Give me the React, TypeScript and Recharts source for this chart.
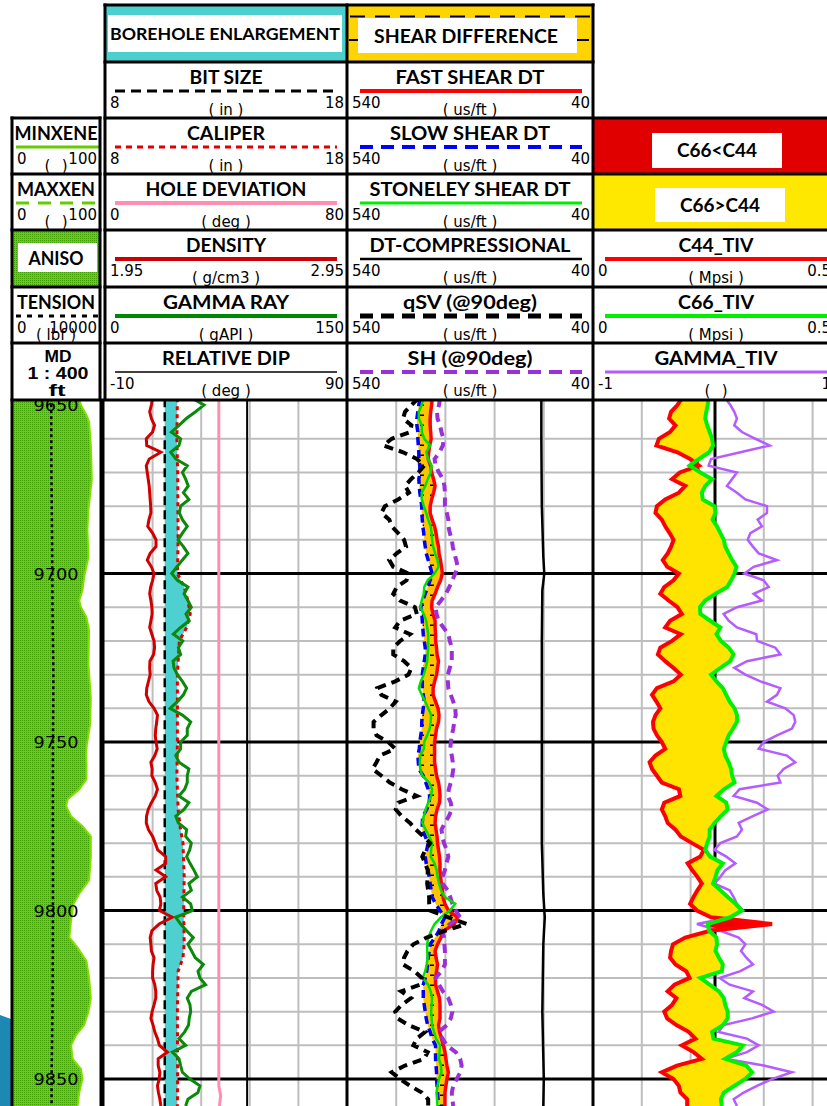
import React from 'react';
import { ComposedChart, Line, Area, XAxis, YAxis, CartesianGrid, ReferenceLine } from 'recharts';

// ---------------- DATA ----------------
const DEPTH = [
  9648, 9650, 9652, 9654, 9656, 9658, 9660, 9662, 9664, 9666,
  9668, 9670, 9672, 9674, 9676, 9678, 9680, 9682, 9684, 9686,
  9688, 9690, 9692, 9694, 9696, 9698, 9700, 9702, 9704, 9706,
  9708, 9710, 9712, 9714, 9716, 9718, 9720, 9722, 9724, 9726,
  9728, 9730, 9732, 9734, 9736, 9738, 9740, 9742, 9744, 9746,
  9748, 9750, 9752, 9754, 9756, 9758, 9760, 9762, 9764, 9766,
  9768, 9770, 9772, 9774, 9776, 9778, 9780, 9782, 9784, 9786,
  9788, 9790, 9792, 9794, 9796, 9798, 9800, 9802, 9804, 9806,
  9808, 9810, 9812, 9814, 9816, 9818, 9820, 9822, 9824, 9826,
  9828, 9830, 9832, 9834, 9836, 9838, 9840, 9842, 9844, 9846,
  9848, 9850, 9852, 9854, 9856, 9858,
];

const C44_TIV = [
  0.182, 0.173, 0.160, 0.156, 0.169, 0.158, 0.135, 0.130, 0.173, 0.199,
  0.217, 0.178, 0.162, 0.189, 0.176, 0.148, 0.131, 0.128, 0.141, 0.148,
  0.157, 0.165, 0.160, 0.153, 0.143, 0.152, 0.176, 0.165, 0.146, 0.138,
  0.155, 0.173, 0.182, 0.158, 0.148, 0.180, 0.162, 0.138, 0.133, 0.148,
  0.165, 0.180, 0.165, 0.131, 0.121, 0.130, 0.138, 0.128, 0.123, 0.124,
  0.131, 0.141, 0.148, 0.128, 0.116, 0.121, 0.131, 0.141, 0.176, 0.179,
  0.146, 0.141, 0.148, 0.153, 0.169, 0.180, 0.203, 0.227, 0.220, 0.194,
  0.203, 0.214, 0.223, 0.214, 0.206, 0.199, 0.213, 0.242, 0.367, 0.240,
  0.189, 0.164, 0.160, 0.158, 0.169, 0.191, 0.198, 0.167, 0.153, 0.171,
  0.162, 0.146, 0.152, 0.171, 0.196, 0.210, 0.182, 0.206, 0.223, 0.172,
  0.141, 0.165, 0.176, 0.179, 0.193, 0.193,
];

const C66_TIV = [
  0.237, 0.235, 0.232, 0.230, 0.234, 0.239, 0.244, 0.246, 0.238, 0.217,
  0.198, 0.220, 0.244, 0.230, 0.223, 0.225, 0.249, 0.251, 0.245, 0.254,
  0.261, 0.268, 0.271, 0.278, 0.285, 0.294, 0.290, 0.283, 0.275, 0.251,
  0.230, 0.219, 0.220, 0.240, 0.261, 0.253, 0.262, 0.278, 0.288, 0.281,
  0.261, 0.242, 0.253, 0.266, 0.273, 0.280, 0.290, 0.295, 0.295, 0.287,
  0.278, 0.273, 0.268, 0.271, 0.278, 0.283, 0.285, 0.290, 0.268, 0.253,
  0.273, 0.276, 0.262, 0.249, 0.239, 0.239, 0.234, 0.230, 0.240, 0.266,
  0.255, 0.251, 0.246, 0.261, 0.276, 0.292, 0.305, 0.281, 0.235, 0.238,
  0.253, 0.254, 0.251, 0.258, 0.266, 0.264, 0.220, 0.239, 0.258, 0.268,
  0.271, 0.276, 0.276, 0.266, 0.244, 0.247, 0.307, 0.295, 0.271, 0.314,
  0.326, 0.312, 0.290, 0.268, 0.262, 0.264,
];

const GAMMA_TIV = [
  0.085, 0.126, 0.158, 0.180, 0.158, 0.221, 0.331, 0.448, 0.208, -0.033,
  -0.052, 0.180, 0.139, 0.098, 0.180, 0.249, 0.426, 0.426, 0.350, 0.385,
  0.290, 0.268, 0.311, 0.358, 0.508, 0.317, 0.240, 0.399, 0.440, 0.317,
  0.385, 0.180, 0.071, 0.112, 0.180, 0.339, 0.344, 0.495, 0.536, 0.262,
  0.158, 0.249, 0.372, 0.536, 0.508, 0.426, 0.577, 0.645, 0.658, 0.631,
  0.508, 0.399, 0.358, 0.590, 0.658, 0.563, 0.514, 0.536, 0.202, 0.153,
  0.344, 0.432, 0.311, 0.194, 0.221, 0.180, 0.044, -0.005, 0.093, 0.167,
  0.085, 0.044, -0.005, 0.120, 0.153, 0.180, 0.230, 0.126, -0.148, 0.044,
  0.194, 0.249, 0.213, 0.257, 0.311, 0.208, 0.038, 0.120, 0.311, 0.240,
  0.385, 0.481, 0.303, 0.071, 0.030, 0.262, 0.358, 0.262, 0.085, 0.399,
  0.631, 0.467, 0.344, 0.235, 0.153, 0.180,
];

const FAST_SHEAR_DT = [
  367, 368, 370, 371, 371, 370, 369, 372, 374, 375,
  370, 368, 364, 361, 364, 368, 371, 371, 367, 362,
  359, 357, 354, 353, 350, 348, 346, 350, 356, 361,
  367, 368, 365, 361, 361, 360, 360, 358, 357, 354,
  356, 358, 362, 365, 365, 360, 355, 353, 354, 358,
  360, 362, 362, 362, 362, 360, 358, 354, 352, 351,
  352, 357, 360, 361, 359, 357, 356, 354, 352, 351,
  351, 350, 348, 346, 345, 341, 334, 315, 322, 343,
  349, 356, 361, 359, 356, 358, 360, 360, 356, 352,
  351, 351, 351, 354, 352, 348, 344, 341, 339, 337,
  334, 337, 339, 341, 341, 341,
];

const SLOW_SHEAR_DT = [
  392, 394, 396, 398, 398, 396, 396, 395, 394, 394,
  392, 392, 394, 393, 392, 390, 388, 388, 387, 386,
  384, 383, 381, 379, 375, 371, 367, 371, 376, 381,
  386, 390, 388, 387, 386, 385, 383, 381, 381, 383,
  385, 387, 387, 387, 385, 383, 385, 387, 388, 388,
  390, 392, 393, 396, 395, 394, 385, 380, 375, 372,
  373, 378, 386, 387, 387, 381, 375, 378, 381, 379,
  375, 373, 371, 369, 367, 360, 351, 341, 348, 353,
  361, 371, 373, 375, 376, 378, 381, 385, 385, 385,
  383, 381, 379, 376, 371, 367, 360, 360, 360, 359,
  358, 358, 357, 356, 355, 354,
];

const STONELEY_SHEAR_DT = [
  385, 388, 394, 394, 388, 388, 383, 371, 379, 375,
  368, 370, 376, 381, 388, 388, 384, 379, 375, 370,
  368, 367, 365, 361, 356, 354, 362, 376, 383, 384,
  388, 391, 384, 379, 377, 375, 375, 375, 376, 377,
  380, 384, 390, 394, 388, 381, 375, 369, 370, 372,
  377, 383, 384, 391, 392, 391, 387, 373, 367, 369,
  375, 380, 384, 387, 380, 373, 367, 369, 370, 362,
  358, 356, 353, 349, 341, 320, 331, 349, 362, 369,
  375, 377, 377, 376, 378, 381, 386, 375, 370, 367,
  368, 369, 368, 367, 363, 359, 351, 352, 353, 349,
  348, 353, 356, 358, 357, 356,
];

const SH_DT = [
  351, 353, 357, 356, 351, 348, 344, 345, 352, 362,
  360, 353, 345, 342, 341, 341, 341, 337, 334, 334,
  331, 327, 325, 322, 318, 315, 320, 326, 332, 339,
  349, 360, 358, 354, 344, 334, 331, 327, 327, 327,
  331, 335, 335, 334, 329, 324, 320, 319, 322, 324,
  327, 329, 330, 327, 325, 324, 326, 329, 333, 335,
  329, 327, 333, 341, 348, 346, 343, 337, 334, 338,
  341, 346, 346, 335, 330, 326, 319, 310, 331, 346,
  343, 342, 341, 341, 341, 348, 360, 353, 345, 334,
  329, 326, 329, 337, 353, 346, 337, 319, 310, 307,
  310, 317, 324, 327, 326, 324,
];

const QSV_DT = [
  395, 409, 422, 426, 409, 412, 449, 466, 426, 398,
  383, 395, 410, 422, 414, 436, 463, 470, 454, 449,
  436, 424, 420, 439, 454, 446, 415, 419, 439, 446,
  432, 402, 398, 432, 442, 412, 432, 446, 446, 424,
  409, 415, 442, 478, 470, 441, 453, 470, 486, 486,
  480, 456, 442, 473, 480, 488, 470, 453, 429, 398,
  436, 441, 429, 412, 400, 385, 371, 381, 387, 381,
  376, 376, 377, 375, 373, 373, 371, 334, 297, 341,
  378, 405, 417, 424, 426, 403, 388, 392, 430, 410,
  429, 442, 437, 415, 381, 398, 405, 376, 383, 422,
  449, 432, 412, 388, 375, 375,
];

const DENSITY = [
  2.150, 2.145, 2.138, 2.145, 2.158, 2.150, 2.124, 2.126, 2.184, 2.136,
  2.124, 2.128, 2.132, 2.136, 2.138, 2.140, 2.142, 2.143, 2.135, 2.130,
  2.150, 2.164, 2.164, 2.140, 2.128, 2.145, 2.156, 2.150, 2.142, 2.138,
  2.143, 2.147, 2.148, 2.143, 2.138, 2.147, 2.156, 2.158, 2.154, 2.139,
  2.138, 2.140, 2.133, 2.126, 2.124, 2.135, 2.156, 2.170, 2.167, 2.163,
  2.161, 2.164, 2.169, 2.159, 2.143, 2.148, 2.147, 2.161, 2.170, 2.161,
  2.145, 2.132, 2.125, 2.124, 2.133, 2.150, 2.161, 2.171, 2.204, 2.204,
  2.164, 2.204, 2.163, 2.167, 2.181, 2.184, 2.178, 2.231, 2.177, 2.147,
  2.140, 2.143, 2.145, 2.156, 2.152, 2.150, 2.150, 2.159, 2.163, 2.163,
  2.156, 2.148, 2.143, 2.152, 2.159, 2.170, 2.178, 2.211, 2.173, 2.173,
  2.180, 2.177, 2.170, 2.174, 2.180, 2.184,
];

const GAMMA_RAY = [
  54.5, 61.7, 56.5, 50.8, 46.3, 41.6, 47.3, 46.3, 41.2, 44.3,
  51.4, 48.4, 50.4, 52.0, 49.0, 52.4, 47.3, 46.5, 48.4, 51.4,
  48.4, 45.7, 49.0, 51.8, 48.4, 44.9, 41.8, 45.3, 51.8, 49.4,
  51.8, 53.9, 50.6, 52.6, 47.3, 42.8, 48.6, 45.9, 47.3, 42.6,
  43.2, 45.3, 48.4, 51.0, 49.0, 45.3, 40.8, 48.4, 53.5, 51.4,
  51.4, 47.3, 47.3, 44.3, 46.3, 52.4, 51.4, 51.4, 49.8, 46.3,
  52.4, 49.4, 44.3, 45.9, 51.0, 50.4, 53.9, 52.9, 51.0, 53.1,
  55.5, 57.6, 52.4, 53.9, 48.4, 53.5, 54.5, 44.3, 47.3, 51.0,
  55.1, 51.8, 54.1, 56.3, 61.3, 58.0, 59.2, 62.7, 53.9, 51.4,
  53.1, 53.5, 52.6, 52.2, 49.8, 46.3, 50.4, 42.2, 46.3, 47.3,
  48.4, 53.1, 59.2, 58.0, 51.8, 50.4,
];

const CAL_DEPTH = [9648, 9660, 9670, 9690, 9700, 9704, 9708, 9712, 9716, 9720, 9730, 9750, 9760, 9770, 9776, 9780, 9790, 9800, 9810, 9814, 9818, 9830, 9850, 9858];
const CALIPER = [11.02, 11.0, 11.03, 11.05, 11.02, 11.3, 11.45, 11.55, 11.4, 11.1, 11.02, 11.02, 11.0, 11.05, 11.15, 11.25, 11.3, 11.28, 11.3, 11.25, 11.05, 11.02, 11.03, 11.02];
const BIT_SIZE = [10.5, 10.5, 10.5, 10.5, 10.5, 10.5, 10.5, 10.5, 10.5, 10.5, 10.5, 10.5, 10.5, 10.5, 10.5, 10.5, 10.5, 10.5, 10.5, 10.5, 10.5, 10.5, 10.5, 10.5];

const HDEV_DEPTH = [9648, 9700, 9750, 9800, 9852, 9855, 9858];
const HOLE_DEVIATION = [37.8, 37.8, 37.8, 37.8, 37.8, 38.4, 38.0];

const RDIP_DEPTH = [9648, 9858];
const RELATIVE_DIP = [48.9, 48.9];

const DTC_DEPTH = [9648, 9660, 9680, 9695, 9700, 9705, 9720, 9760, 9780, 9795, 9802, 9810, 9830, 9850, 9858];
const DT_COMPRESSIONAL = [145, 145, 144, 141, 139, 143, 144, 144, 144, 141, 138, 141, 143, 140, 141];

const ANISO_DEPTH = [9648, 9650, 9653, 9655, 9662, 9672, 9681, 9687, 9695, 9701, 9705, 9708, 9710, 9713, 9717, 9727, 9737, 9745, 9751, 9754, 9757, 9761, 9764, 9767, 9769, 9772, 9775, 9778, 9784, 9791, 9795, 9798, 9803, 9808, 9811, 9815, 9820, 9826, 9830, 9834, 9837, 9840, 9844, 9847, 9850, 9854, 9858];
const MAXXEN = [76.4, 78.3, 84.6, 87.6, 89.6, 90.7, 86.9, 85.7, 86.9, 82.0, 80.1, 76.4, 78.3, 84.6, 87.6, 86.9, 89.6, 88.6, 85.0, 84.0, 84.6, 84.6, 76.4, 63.3, 61.5, 67.1, 80.1, 89.6, 89.6, 87.6, 76.4, 70.0, 67.1, 65.2, 74.5, 84.6, 87.6, 89.6, 86.9, 82.0, 72.7, 67.1, 68.9, 78.3, 80.1, 76.4, 74.5];

const TEN_DEPTH = [9648, 9670, 9690, 9710, 9730, 9750, 9770, 9790, 9810, 9830, 9850, 9858];
const TENSION = [4450, 4480, 4560, 4600, 4700, 4650, 4640, 4650, 4640, 4600, 4500, 4500];

const MAJOR_DEPTHS = [9650, 9700, 9750, 9800, 9850];
const MINOR_DEPTHS = [9660, 9670, 9680, 9690, 9710, 9720, 9730, 9740, 9760, 9770, 9780, 9790, 9810, 9820, 9830, 9840];
const T1_GRID = [10, 12, 14, 16];
const T2_GRID = [140, 240, 340, 440];
const T3_GRID = [0.05, 0.1, 0.15, 0.2, 0.3, 0.35, 0.4, 0.45];
const T3_MAJOR = [0.25];

// ---------------- ROWS ----------------
const mainRows = DEPTH.map((depth, i) => ({
  depth,
  den: DENSITY[i], gr: GAMMA_RAY[i],
  fast: FAST_SHEAR_DT[i], slow: SLOW_SHEAR_DT[i], stc: STONELEY_SHEAR_DT[i], sh: SH_DT[i], qsv: QSV_DT[i],
  c44: C44_TIV[i], c66: C66_TIV[i], gam: GAMMA_TIV[i],
}));
const calRows = CAL_DEPTH.map((depth, i) => ({ depth, cal: CALIPER[i], bit: BIT_SIZE[i] }));
const devRows = HDEV_DEPTH.map((depth, i) => ({ depth, dev: HOLE_DEVIATION[i] }));
const dipRows = RDIP_DEPTH.map((depth, i) => ({ depth, dip: RELATIVE_DIP[i] }));
const dtcRows = DTC_DEPTH.map((depth, i) => ({ depth, dtc: DT_COMPRESSIONAL[i] }));
const anisoRows = ANISO_DEPTH.map((depth, i) => ({ depth, an: MAXXEN[i] }));
const tenRows = TEN_DEPTH.map((depth, i) => ({ depth, ten: TENSION[i] }));

// ---------------- LAYOUT ----------------
const TOP = 400;
const H = 706;
const Y_DOMAIN: [number, number] = [9648.5, 9858];
const M = { top: 0, right: 0, bottom: 0, left: 0 };

function ln(key: string, p: any) {
  return <Line key={key} type="linear" dot={false} activeDot={false} isAnimationActive={false} legendType="none" {...p} />;
}
function yAx() {
  return <YAxis key="y" type="number" dataKey="depth" domain={Y_DOMAIN} hide allowDataOverflow />;
}
function grids(xGrid: number[]) {
  return [
    <CartesianGrid key="gmin" horizontalValues={MINOR_DEPTHS} verticalValues={xGrid} stroke="#BEBEBE" strokeWidth={2} />,
    <CartesianGrid key="gmaj" horizontalValues={MAJOR_DEPTHS} vertical={false} stroke="#000" strokeWidth={3} />,
  ];
}

const DepthLabel = (props: any) => {
  const vb = props.viewBox || {};
  const cx = (vb.x ?? 0) + (vb.width ?? 88) / 2;
  const cy = (vb.y ?? 0) + (vb.height ?? 0) / 2;
  return (
    <text x={cx} y={cy + 6} textAnchor="middle" fontFamily="'DejaVu Sans', sans-serif" fontSize={16}
      textLength={45} lengthAdjust="spacingAndGlyphs" fill="#000">{props.value}</text>
  );
};

const TITLE_FONT = "Lato, 'Open Sans', sans-serif";
const VAL_FONT = "'DejaVu Sans', sans-serif";
const MD_FONT = "'Liberation Sans', Arial, sans-serif";
const ROW_TOP = [5, 62, 118, 174, 230, 287, 343];

const T0 = { x0: 12, x1: 100, lx0: 16, lx1: 99 };
const T1 = { x0: 105, x1: 347, lx0: 115, lx1: 337 };
const T2 = { x0: 347, x1: 593, lx0: 360, lx1: 582 };
const T3 = { x0: 593, x1: 837, lx0: 605, lx1: 830 };

const CURVE_HEADERS = [
  { t: T0, row: 2, title: 'MINXENE', tw: 83, color: '#66CC00', sw: 3, left: '0', right: '100', unit: '( )', uw: 23 },
  { t: T0, row: 3, title: 'MAXXEN', tw: 78, color: '#66CC00', sw: 3, dash: '13 9', left: '0', right: '100', unit: '( )', uw: 23 },
  { t: T0, row: 5, title: 'TENSION', tw: 78, color: '#000', sw: 3, dash: '5 6', left: '0', right: '10000', unit: '( lbf )' },
  { t: T1, row: 1, title: 'BIT SIZE', tw: 73, color: '#000', sw: 3, dash: '10 6', left: '8', right: '18', unit: '( in )' },
  { t: T1, row: 2, title: 'CALIPER', tw: 78, color: '#E00000', sw: 3, dash: '6 5', left: '8', right: '18', unit: '( in )' },
  { t: T1, row: 3, title: 'HOLE DEVIATION', tw: 161, color: '#FF8FB0', sw: 4, left: '0', right: '80', unit: '( deg )' },
  { t: T1, row: 4, title: 'DENSITY', tw: 80, color: '#CC0000', sw: 4, left: '1.95', right: '2.95', unit: '( g/cm3 )' },
  { t: T1, row: 5, title: 'GAMMA RAY', tw: 126, color: '#008800', sw: 4, left: '0', right: '150', unit: '( gAPI )' },
  { t: T1, row: 6, title: 'RELATIVE DIP', tw: 128, color: '#000', sw: 1.5, left: '-10', right: '90', unit: '( deg )' },
  { t: T2, row: 1, title: 'FAST SHEAR DT', tw: 149, color: '#FF0000', sw: 4, left: '540', right: '40', unit: '( us/ft )' },
  { t: T2, row: 2, title: 'SLOW SHEAR DT', tw: 160, color: '#0000FF', sw: 4, dash: '13 8', left: '540', right: '40', unit: '( us/ft )' },
  { t: T2, row: 3, title: 'STONELEY SHEAR DT', tw: 201, color: '#00EE00', sw: 3, left: '540', right: '40', unit: '( us/ft )' },
  { t: T2, row: 4, title: 'DT-COMPRESSIONAL', tw: 201, color: '#000', sw: 2.5, left: '540', right: '40', unit: '( us/ft )' },
  { t: T2, row: 5, title: 'qSV (@90deg)', tw: 134, color: '#000', sw: 5, dash: '13 8', left: '540', right: '40', unit: '( us/ft )' },
  { t: T2, row: 6, title: 'SH (@90deg)', tw: 125, color: '#9B30D9', sw: 4, dash: '13 8', left: '540', right: '40', unit: '( us/ft )' },
  { t: T3, row: 4, title: 'C44_TIV', tw: 75, color: '#FF0000', sw: 4, left: '0', right: '0.5', unit: '( Mpsi )', rx: 831 },
  { t: T3, row: 5, title: 'C66_TIV', tw: 76, color: '#00EE00', sw: 4, left: '0', right: '0.5', unit: '( Mpsi )', rx: 831 },
  { t: T3, row: 6, title: 'GAMMA_TIV', tw: 123, color: '#B45CFF', sw: 3, left: '-1', right: '1', unit: '( )', uw: 23, rx: 831 },
];

function CurveHeader({ h }: { h: any }) {
  const top = ROW_TOP[h.row];
  const cx = h.t === T3 ? 716 : (h.t.x0 + h.t.x1) / 2;
  const rx = h.rx ?? h.t.x1 - 3;
  return (
    <g>
      <text x={cx} y={top + 21.5} textAnchor="middle" fontFamily={TITLE_FONT} fontWeight={700} fontSize={18}
        textLength={h.tw} lengthAdjust="spacingAndGlyphs" fill="#000">{h.title}</text>
      <line x1={h.t.lx0} x2={h.t.lx1} y1={top + 29} y2={top + 29} stroke={h.color} strokeWidth={h.sw} strokeDasharray={h.dash} />
      <text x={h.t.x0 + 5} y={top + 46} fontFamily={VAL_FONT} fontSize={15} fill="#000">{h.left}</text>
      <text x={rx} y={top + 46} textAnchor="end" fontFamily={VAL_FONT} fontSize={15} fill="#000">{h.right}</text>
      <text x={cx} y={top + 52.5} textAnchor="middle" fontFamily={VAL_FONT} fontSize={15} fill="#000"
        textLength={h.uw} lengthAdjust={h.uw ? 'spacing' : undefined}>{h.unit}</text>
    </g>
  );
}

function BoxText({ x, y, w, text, size, font }: any) {
  return (
    <text x={x} y={y} textAnchor="middle" fontFamily={font ?? TITLE_FONT} fontWeight={700} fontSize={size ?? 18}
      textLength={w} lengthAdjust="spacingAndGlyphs" fill="#000">{text}</text>
  );
}

export default function App() {
  const B = { stroke: '#000', strokeWidth: 3 };
  return (
    <div style={{ position: 'absolute', left: 0, top: 0, width: 827, height: 1106, overflow: 'hidden', background: '#fff' }}>
      <svg width={0} height={0} style={{ position: 'absolute' }}>
        <defs>
          <pattern id="anisoPat" width={2} height={2} patternUnits="userSpaceOnUse">
            <rect width={2} height={2} fill="#6CD000" />
            <rect width={1} height={1} fill="#3F9E00" />
          </pattern>
          <pattern id="shearPat" width={10} height={10} patternUnits="userSpaceOnUse">
            <rect width={10} height={10} fill="#FFC400" />
            <rect x={3} y={4.5} width={4} height={1.5} fill="#000" />
          </pattern>
        </defs>
      </svg>

      {/* Track 0: ANISO / TENSION / depth */}
      <div style={{ position: 'absolute', left: 12, top: TOP }}>
        <ComposedChart layout="vertical" width={88} height={H} margin={M}>
          <XAxis type="number" domain={[0, 100]} hide allowDataOverflow />
          <XAxis type="number" xAxisId="ten" domain={[0, 10000]} hide allowDataOverflow />
          {yAx()}
          <Area data={anisoRows} dataKey="an" baseValue={0} type="linear" fill="url(#anisoPat)" fillOpacity={1}
            stroke="#7FE000" strokeWidth={2} isAnimationActive={false} dot={false} activeDot={false} />
          {ln('ten', { data: tenRows, dataKey: 'ten', xAxisId: 'ten', stroke: '#000', strokeWidth: 2.5, strokeDasharray: '3 3' })}
          {MAJOR_DEPTHS.map((d) => (
            <ReferenceLine key={d} y={d} stroke="none" label={{ value: String(d), content: DepthLabel }} />
          ))}
        </ComposedChart>
      </div>

      {/* Track 1 */}
      <div style={{ position: 'absolute', left: 104, top: TOP }}>
        <ComposedChart layout="vertical" width={243} height={H} margin={M}>
          <XAxis type="number" domain={[8, 18]} hide allowDataOverflow />
          <XAxis type="number" xAxisId="den" domain={[1.95, 2.95]} hide allowDataOverflow />
          <XAxis type="number" xAxisId="gr" domain={[0, 150]} hide allowDataOverflow />
          <XAxis type="number" xAxisId="dev" domain={[0, 80]} hide allowDataOverflow />
          <XAxis type="number" xAxisId="dip" domain={[-10, 90]} hide allowDataOverflow />
          {yAx()}
          {grids(T1_GRID)}
          <Area data={calRows} dataKey={(r: any) => [r.bit, r.cal]} type="linear" fill="#4FD0D0" fillOpacity={1}
            stroke="none" isAnimationActive={false} dot={false} activeDot={false} />
          {ln('dev', { data: devRows, dataKey: 'dev', xAxisId: 'dev', stroke: '#FF8FB0', strokeWidth: 3 })}
          {ln('dip', { data: dipRows, dataKey: 'dip', xAxisId: 'dip', stroke: '#000', strokeWidth: 2 })}
          {ln('bit', { data: calRows, dataKey: 'bit', stroke: '#000', strokeWidth: 2.5, strokeDasharray: '9 5' })}
          {ln('cal', { data: calRows, dataKey: 'cal', stroke: '#E00000', strokeWidth: 3, strokeDasharray: '4 4' })}
          {ln('den', { data: mainRows, dataKey: 'den', xAxisId: 'den', stroke: '#D00000', strokeWidth: 3 })}
          {ln('gr', { data: mainRows, dataKey: 'gr', xAxisId: 'gr', stroke: '#0A8A0A', strokeWidth: 3 })}
        </ComposedChart>
      </div>

      {/* Track 2 */}
      <div style={{ position: 'absolute', left: 347, top: TOP }}>
        <ComposedChart layout="vertical" width={246} height={H} margin={M}>
          <XAxis type="number" domain={[40, 540]} reversed hide allowDataOverflow />
          {yAx()}
          {grids(T2_GRID)}
          <Area data={mainRows} dataKey={(r: any) => [r.fast, r.slow]} type="linear" fill="url(#shearPat)" fillOpacity={1}
            stroke="none" isAnimationActive={false} dot={false} activeDot={false} />
          {ln('dtc', { data: dtcRows, dataKey: 'dtc', stroke: '#000', strokeWidth: 2.5 })}
          {ln('fast', { data: mainRows, dataKey: 'fast', stroke: '#FF0000', strokeWidth: 3.5 })}
          {ln('slow', { data: mainRows, dataKey: 'slow', stroke: '#0000FF', strokeWidth: 3.5, strokeDasharray: '8 5' })}
          {ln('sh', { data: mainRows, dataKey: 'sh', stroke: '#9B30D9', strokeWidth: 4, strokeDasharray: '9 6' })}
          {ln('stc', { data: mainRows, dataKey: 'stc', stroke: '#00E000', strokeWidth: 2.5 })}
          {ln('qsv', { data: mainRows, dataKey: 'qsv', stroke: '#000', strokeWidth: 4, strokeDasharray: '9 6' })}
        </ComposedChart>
      </div>

      {/* Track 3 */}
      <div style={{ position: 'absolute', left: 593, top: TOP }}>
        <ComposedChart layout="vertical" width={244} height={H} margin={M} data={mainRows}>
          <XAxis type="number" domain={[0, 0.5]} hide allowDataOverflow />
          <XAxis type="number" xAxisId="g" domain={[-1, 1]} hide allowDataOverflow />
          {yAx()}
          {grids(T3_GRID)}
          <CartesianGrid horizontal={false} verticalValues={T3_MAJOR} stroke="#000" strokeWidth={3} />
          <Area dataKey={(r: any) => [r.c44, Math.max(r.c44, r.c66)]} type="linear" fill="#FFE400" fillOpacity={1}
            stroke="none" isAnimationActive={false} dot={false} activeDot={false} />
          <Area dataKey={(r: any) => [r.c66, Math.max(r.c44, r.c66)]} type="linear" fill="#F00000" fillOpacity={1}
            stroke="none" isAnimationActive={false} dot={false} activeDot={false} />
          {ln('gam', { dataKey: 'gam', xAxisId: 'g', stroke: '#B45CFF', strokeWidth: 2.5 })}
          {ln('c44', { dataKey: 'c44', stroke: '#FF0000', strokeWidth: 4 })}
          {ln('c66', { dataKey: 'c66', stroke: '#00F000', strokeWidth: 4 })}
        </ComposedChart>
      </div>

      {/* Header and borders */}
      <svg width={827} height={1106} style={{ position: 'absolute', left: 0, top: 0, pointerEvents: 'none' }}>
        {/* decorative slide fragment bottom-left */}
        <polygon points="0,1015 11,1019 11,1106 0,1106" fill="#1E88B4" />

        {/* Track 1 title box */}
        <rect x={105} y={5} width={242} height={57} fill="#4DCFCF" />
        <rect x={108} y={15} width={234} height={37} fill="#fff" />
        <BoxText x={225} y={40} w={230} text="BOREHOLE ENLARGEMENT" size={17} />

        {/* Track 2 title box */}
        <rect x={347} y={5} width={246} height={57} fill="#FFD400" />
        <line x1={350} x2={590} y1={16.5} y2={16.5} stroke="#000" strokeWidth={2} strokeDasharray="15 10" />
        <line x1={349} x2={591} y1={40} y2={40} stroke="#000" strokeWidth={2} strokeDasharray="15 10" />
        <rect x={358} y={18} width={219} height={35} fill="#fff" />
        <BoxText x={466} y={43} w={184} text="SHEAR DIFFERENCE" />

        {/* Track 3 fill legend boxes */}
        <rect x={593} y={118} width={240} height={56} fill="#E00000" />
        <rect x={652} y={133} width={130} height={35} fill="#fff" />
        <BoxText x={717} y={157} w={80} text="C66<C44" />
        <rect x={593} y={174} width={240} height={56} fill="#FFE800" />
        <rect x={655} y={188} width={130} height={34} fill="#fff" />
        <BoxText x={720} y={212} w={80} text="C66>C44" />

        {/* ANISO box */}
        <rect x={12} y={230} width={88} height={57} fill="url(#anisoPat)" />
        <rect x={18} y={243} width={79} height={29} fill="#fff" />
        <BoxText x={56} y={265} w={55} text="ANISO" />

        {/* MD cell */}
        <BoxText x={58} y={362} w={27} text="MD" size={16} font={MD_FONT} />
        <BoxText x={58} y={379} w={61} text="1 : 400" size={16} font={MD_FONT} />
        <BoxText x={57} y={396} w={17} text="ft" size={16} font={MD_FONT} />

        {CURVE_HEADERS.map((h, i) => <CurveHeader key={i} h={h} />)}

        {/* borders */}
        <line x1={12} x2={12} y1={116.5} y2={1106} {...B} />
        <line x1={100} x2={100} y1={116.5} y2={400} {...B} />
        <line x1={105} x2={105} y1={3.5} y2={400} {...B} />
        <line x1={102} x2={102} y1={400} y2={1106} stroke="#000" strokeWidth={5} />
        <line x1={347} x2={347} y1={3.5} y2={1106} {...B} />
        <line x1={593} x2={593} y1={3.5} y2={1106} {...B} />
        <line x1={103.5} x2={594.5} y1={5} y2={5} {...B} />
        <line x1={103.5} x2={594.5} y1={62} y2={62} {...B} />
        {[118, 174, 230, 287, 343].map((y) => (
          <g key={y}>
            <line x1={10.5} x2={101.5} y1={y} y2={y} {...B} />
            <line x1={103.5} x2={827} y1={y} y2={y} {...B} />
          </g>
        ))}
        <line x1={10.5} x2={827} y1={400} y2={400} {...B} />
      </svg>
    </div>
  );
}
